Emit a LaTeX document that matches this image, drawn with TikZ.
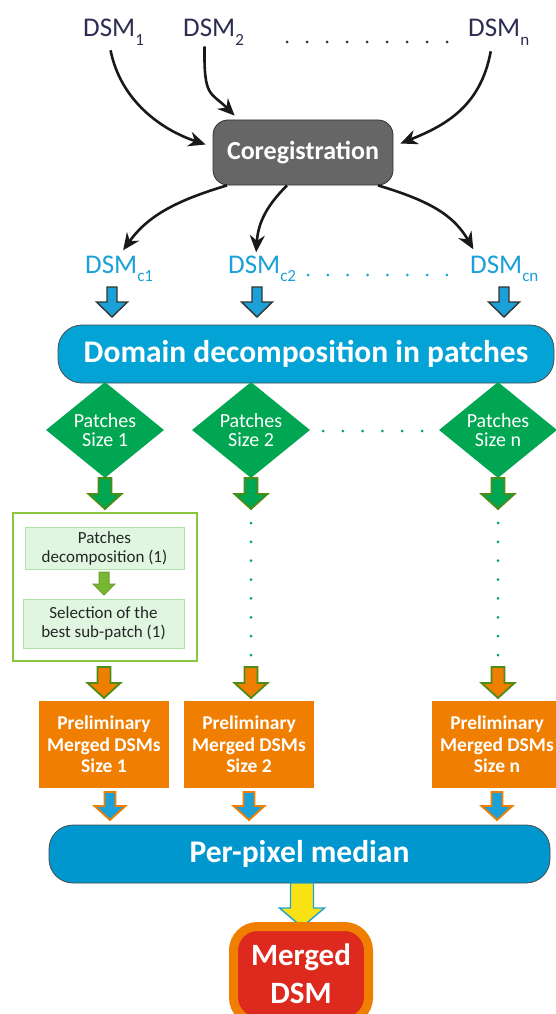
\documentclass[tikz,border=0pt]{standalone}
\usepackage{fontspec}
\setmainfont{Carlito}
\usetikzlibrary{arrows.meta,calc,shapes.geometric}
\definecolor{navy}{RGB}{45,45,80}
\definecolor{cblue}{RGB}{27,160,215}
\definecolor{boxblue}{RGB}{4,163,214}
\definecolor{pblue}{RGB}{0,150,206}
\definecolor{cgray}{RGB}{102,102,102}
\definecolor{dgreen}{RGB}{0,166,81}
\definecolor{olive}{RGB}{78,140,22}
\definecolor{lgreen}{RGB}{140,198,63}
\definecolor{sgreen}{RGB}{118,184,50}
\definecolor{pale}{RGB}{224,246,224}
\definecolor{paleb}{RGB}{176,226,170}
\definecolor{orng}{RGB}{240,126,0}
\definecolor{yel}{RGB}{248,226,20}
\definecolor{redm}{RGB}{222,42,30}
\newcommand\sbs[1]{\raisebox{-0.3em}{\fontsize{17}{17}\selectfont #1}}
\newcommand\barr[7]{%
  \draw[#1] ({#2-#6},#3) -- ({#2+#6},#3) -- ({#2+#6},#4) -- ({#2+#7},#4) -- (#2,#5)
    -- ({#2-#7},#4) -- ({#2-#6},#4) -- cycle;}
\tikzset{
  dsm/.style={anchor=base west, inner sep=0pt, font=\fontsize{27}{30}\selectfont, text=navy},
  dsmc/.style={dsm, text=cblue},
  conn/.style={line width=2.6pt, draw=black!90, -{Stealth[length=17pt,width=15pt]}},
  coregbox/.style={draw=black!80, line width=0.8pt, fill=cgray, rounded corners=15pt,
    text=white, font=\bfseries\fontsize{26}{30}\selectfont, minimum width=180pt, minimum height=65pt},
  widebox/.style={draw=black!70, line width=0.8pt, rounded corners=24pt, text=white,
    font=\bfseries\fontsize{31.5}{34}\selectfont},
  patch/.style={diamond, aspect=1.3, inner sep=0pt, fill=dgreen, text=white, align=center,
    font=\fontsize{20}{19}\selectfont, minimum width=118pt, minimum height=96pt},
  subbox/.style={draw=paleb, line width=0.8pt, fill=pale, align=center, text=black!85,
    font=\fontsize{17}{19}\selectfont, minimum height=42pt},
  prelim/.style={fill=orng, text=white, align=center, font=\bfseries\fontsize{19.5}{21.5}\selectfont,
    minimum width=130pt, minimum height=87pt},
  dotrow/.style={line width=3pt, line cap=round},
  bluearr/.style={fill=cblue, draw=black!80, line width=1.4pt},
  greenarr/.style={fill=dgreen, draw=olive, line width=1.8pt},
  smallarr/.style={fill=sgreen, draw=lgreen!80!black, line width=1pt},
  orangearr/.style={fill=orng, draw=olive, line width=1.8pt},
  boarr/.style={fill=cblue, draw=orng, line width=1.8pt},
  yelarr/.style={fill=yel, draw=cblue, line width=1.4pt},
}
\begin{document}
\begin{tikzpicture}[x=1pt,y=-1pt]
\useasboundingbox (0,0) rectangle (556,1014);
\fill[white] (0,0) rectangle (556,1014);
\clip (0,0) rectangle (556,1014);

% top inputs
\node[dsm] (d1) at (83,37) {DSM\sbs{1}};
\node[dsm] (d2) at (183,37) {DSM\sbs{2}};
\node[dsm] (dn) at (468,37) {DSM\sbs{n}};
\draw[dotrow, draw=navy, dash pattern=on 0pt off 20pt] (287,42) -- (448,42);

\node[coregbox] (coreg) at (303,152.5) {Coregistration};

\draw[conn] ($(d1.south)+(-3,5)$) .. controls +(10,50) and +(-45,-15) .. ($(coreg.west)+(-7,-8)$);
\draw[conn] ($(d2.south)+(-9,1)$) .. controls +(-1,52) and +(-24,-24) .. ($(coreg.north west)+(22,-4)$);
\draw[conn] ($(dn.south)+(-8,6)$) .. controls +(-10,55) and +(45,-18) .. ($(coreg.east)+(7,-9)$);

% coregistered DSMs
\node[dsmc] (c1) at (85,273) {DSM\sbs{c1}};
\node[dsmc] (c2) at (228,273) {DSM\sbs{c2}};
\node[dsmc] (cn) at (470,273) {DSM\sbs{cn}};
\draw[dotrow, draw=cblue, dash pattern=on 0pt off 19.85pt] (308,275) -- (448,275);

\draw[conn] ($(coreg.south)+(-76,0)$) .. controls +(-50,15) and +(25,-35) .. ($(c1.north)+(4,-5)$);
\draw[conn] ($(coreg.south)+(-16,0)$) .. controls +(-20,20) and +(2,-30) .. ($(c2.north)+(-6,-3)$);
\draw[conn] ($(coreg.south)+(75,0)$) .. controls +(50,15) and +(-20,-35) .. ($(cn.north)+(-31,-6)$);

\barr{bluearr}{112}{287}{302}{317}{5}{15.5}
\barr{bluearr}{257}{287}{302}{317}{5}{15.5}
\barr{bluearr}{504}{287}{302}{317}{5}{15.5}

\node[widebox, fill=boxblue, minimum width=496pt, minimum height=58pt] (dom) at (306,354) {Domain decomposition in patches};

% patches
\node[patch] (p1) at (105,430) {Patches\\Size 1};
\node[patch] (p2) at (251,430) {Patches\\Size 2};
\node[patch] (pn) at (498,430) {Patches\\Size n};
\draw[dotrow, draw=dgreen, dash pattern=on 0pt off 19.8pt] (323,431) -- (423,431);

\barr{greenarr}{105}{478}{494}{509}{6.5}{16.5}
\barr{greenarr}{251}{478}{494}{509}{6.5}{16.5}
\barr{greenarr}{498}{478}{494}{509}{6.5}{16.5}

% sub-patch block
\node[draw=lgreen, line width=1.6pt, fill=white, minimum width=184pt, minimum height=148pt] (grp) at (105,587) {};
\node[subbox, minimum width=159pt] (sb1) at (104.5,548) {Patches\\decomposition (1)};
\node[subbox, minimum width=161pt, minimum height=49pt] (sb2) at (103.5,623.5) {Selection of the\\best sub-patch (1)};
\barr{smallarr}{104}{572}{584}{595}{5}{11}

\draw[dotrow, draw=dgreen, line width=3pt, dash pattern=on 0pt off 18.86pt] (251,523) -- (251,656);
\draw[dotrow, draw=dgreen, line width=3pt, dash pattern=on 0pt off 18.86pt] (498,523) -- (498,656);

\barr{orangearr}{104}{667}{683}{698}{6.5}{16.5}
\barr{orangearr}{251}{667}{683}{698}{6.5}{16.5}
\barr{orangearr}{498}{667}{683}{698}{6.5}{16.5}

% preliminary merged
\node[prelim] (m1) at (104,744.5) {Preliminary\\Merged DSMs\\Size 1};
\node[prelim] (m2) at (249,744.5) {Preliminary\\Merged DSMs\\Size 2};
\node[prelim] (mn) at (497,744.5) {Preliminary\\Merged DSMs\\Size n};

\barr{boarr}{110}{792}{806}{820}{5.5}{15.5}
\barr{boarr}{249}{792}{806}{820}{5.5}{15.5}
\barr{boarr}{497}{792}{806}{820}{5.5}{15.5}

\node[widebox, fill=pblue, minimum width=501pt, minimum height=58pt] (med) at (299.5,854) {Per-pixel median};

\barr{yelarr}{302}{883}{908}{927}{11.5}{22.5}

\node[draw=orng, line width=9pt, fill=redm, rounded corners=24pt, text=white, align=center,
  font=\bfseries\fontsize{31}{38}\selectfont, minimum width=135pt, minimum height=95pt, inner sep=0pt] (out) at (301,974) {Merged\\DSM};
\end{tikzpicture}
\end{document}
